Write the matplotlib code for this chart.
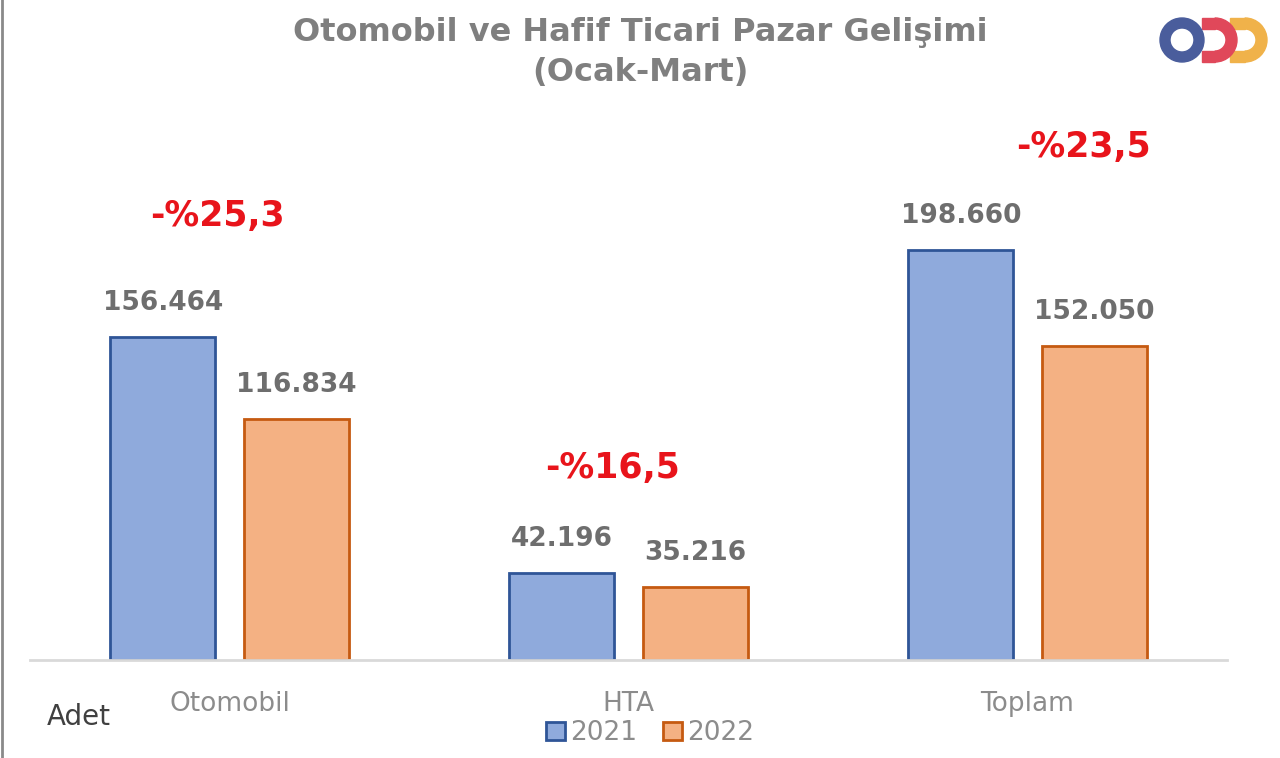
import numpy as np
import matplotlib.pyplot as plt
from matplotlib.patches import Wedge, Rectangle

# veriler
categories = ["Otomobil", "HTA", "Toplam"]
years = ["2021", "2022"]
sales_2021 = [156464, 42196, 198660]
sales_2022 = [116834, 35216, 152050]
labels_2021 = ["156.464", "42.196", "198.660"]
labels_2022 = ["116.834", "35.216", "152.050"]
changes = ["-%25,3", "-%16,5", "-%23,5"]

blue_fill, blue_edge = "#8FAADC", "#2F5597"
orange_fill, orange_edge = "#F4B183", "#C55A11"
grey = "#6E6E6E"

fig = plt.figure(figsize=(12.8, 7.58), dpi=100)
ax = fig.add_axes([30 / 1280, 98 / 758, 1197 / 1280, 550 / 758])

x = np.arange(len(categories))
w = 0.263
off = 0.167
ax.bar(x - off, sales_2021, w, color=blue_fill, edgecolor=blue_edge, linewidth=2, label=years[0])
ax.bar(x + off, sales_2022, w, color=orange_fill, edgecolor=orange_edge, linewidth=2, label=years[1])

for i in range(len(categories)):
    ax.annotate(labels_2021[i], (x[i] - off, sales_2021[i]), xytext=(0, 15), textcoords="offset points",
                ha="center", va="bottom", fontsize=19, fontweight="bold", color=grey)
    ax.annotate(labels_2022[i], (x[i] + off, sales_2022[i]), xytext=(0, 15), textcoords="offset points",
                ha="center", va="bottom", fontsize=19, fontweight="bold", color=grey)

# yuzde degisimler (konum: kategori + kayma, y degeri)
change_dx = [-0.03, -0.04, 0.14]
change_y = [215000, 93000, 248500]
for i, txt in enumerate(changes):
    ax.text(x[i] + change_dx[i], change_y[i], txt, ha="center", va="center",
            fontsize=25, fontweight="bold", color="#E8141B")

ax.set_xlim(-0.5, 2.5)
ax.set_ylim(0, 266500)
for s in ["top", "right", "left"]:
    ax.spines[s].set_visible(False)
ax.spines["bottom"].set_color("#D9D9D9")
ax.spines["bottom"].set_linewidth(2)
ax.set_yticks([])
ax.set_xticks(x)
ax.set_xticklabels(categories, fontsize=19, color="#8C8C8C")
ax.tick_params(axis="x", length=0, pad=22)

fig.text(640 / 1280, 1 - 32 / 758, "Otomobil ve Hafif Ticari Pazar Gelişimi", ha="center", va="center",
         fontsize=23, fontweight="bold", color="#7F7F7F")
fig.text(640 / 1280, 1 - 73 / 758, "(Ocak-Mart)", ha="center", va="center",
         fontsize=23, fontweight="bold", color="#7F7F7F")
fig.text(47 / 1280, 1 - 717 / 758, "Adet", ha="left", va="center", fontsize=20, color="#404040")

leg = fig.legend(loc="center", bbox_to_anchor=(650 / 1280, 1 - 733 / 758), ncol=2, frameon=False,
                 handlelength=0.7, handleheight=0.7, handletextpad=0.2, columnspacing=1.0,
                 prop={"size": 19})
for t in leg.get_texts():
    t.set_color("#8C8C8C")

# logo
lax = fig.add_axes([1150 / 1280, 1 - 70 / 758, 120 / 1280, 60 / 758])
lax.set_xlim(0, 120)
lax.set_ylim(0, 60)
lax.set_aspect("equal")
lax.axis("off")
lax.add_patch(Wedge((95, 30), 22, -90, 90, width=11, color="#F0B24A"))
lax.add_patch(Rectangle((80, 8), 15, 11, color="#F0B24A"))
lax.add_patch(Rectangle((80, 41), 15, 11, color="#F0B24A"))
lax.add_patch(Wedge((65, 30), 22, -90, 90, width=11, color="#E0485A"))
lax.add_patch(Rectangle((52, 8), 13, 11, color="#E0485A"))
lax.add_patch(Rectangle((52, 41), 13, 11, color="#E0485A"))
lax.add_patch(Wedge((32, 30), 22, 0, 360, width=10, color="#4A5D9C"))

fig.add_artist(plt.Line2D([2 / 1280, 2 / 1280], [0, 1], color="#8A8A8A", linewidth=2))

fig.savefig("out.png", dpi=100)
